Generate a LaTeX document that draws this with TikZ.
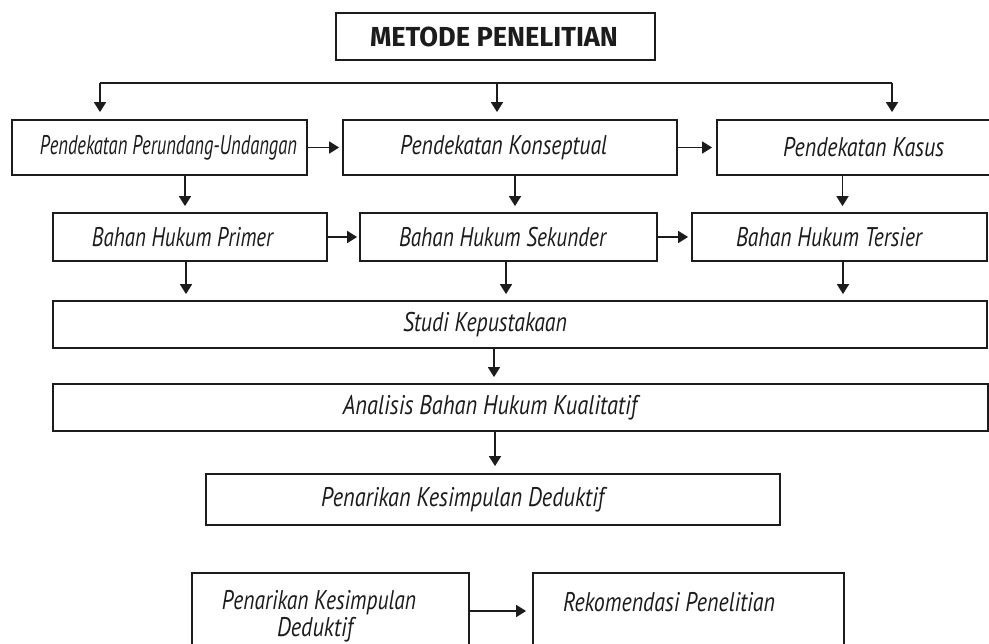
\documentclass[tikz,border=0pt]{standalone}
\usepackage{fontspec}
\usepackage{graphicx}
\usetikzlibrary{arrows.meta}
\newfontfamily\handfont{PT Sans}
\newfontfamily\headfont{Fira Sans}
\definecolor{ink}{HTML}{1C1C1C}
% width, horizontal shift of text centre, text
\newcommand\ftx[3]{\hspace*{\dimexpr#2pt+#2pt\relax}\resizebox{#1pt}{\height}{#3}}
\tikzset{
  box/.style={draw=ink, line width=1.8pt, inner sep=0pt, text=ink,
    font=\handfont\itshape\fontsize{27}{31}\selectfont},
  lbl/.style={inner sep=0pt, text=ink, anchor=base,
    font=\handfont\itshape\fontsize{27}{31}\selectfont},
  conn/.style={draw=ink, line width=1.8pt},
  arr/.style={conn, -{Triangle[length=10pt,width=12pt]}},
}
\begin{document}
\begin{tikzpicture}[x=1pt,y=-1pt]
\useasboundingbox (0,0) rectangle (989,644);
\clip (0,0) rectangle (989,644);
\fill[white] (0,0) rectangle (989,644);

% title
\node[box, line width=2.2pt, minimum width=319pt, minimum height=47pt,
  font=\headfont\bfseries\fontsize{27.5}{30}\selectfont] (title) at (495.5,36.5)
  {\ftx{248}{-1.5}{METODE PENELITIAN}};

% row 1
\node[box, minimum width=295pt, minimum height=55pt] (perund) at (159.5,147.5)
  {\ftx{257}{9}{Pendekatan Perundang-Undangan}};
\node[box, minimum width=334pt, minimum height=55pt] (konsep) at (510,147.5)
  {\ftx{207}{-6.5}{Pendekatan Konseptual}};
\node[box, minimum width=290pt, minimum height=55pt] (kasus) at (862,147.5)
  {\ftx{161}{1.5}{Pendekatan Kasus}};

% row 2
\node[box, minimum width=274pt, minimum height=48pt] (primer) at (190,237)
  {\ftx{181}{-7.5}{Bahan Hukum Primer}};
\node[box, minimum width=297pt, minimum height=48pt] (sekunder) at (508.5,237)
  {\ftx{207}{-6}{Bahan Hukum Sekunder}};
\node[box, minimum width=295pt, minimum height=48pt] (tersier) at (839.5,237)
  {\ftx{186}{-10.5}{Bahan Hukum Tersier}};

% wide rows
\node[box, minimum width=934pt, minimum height=47pt] (studi) at (520,324.5)
  {\ftx{164}{-35}{Studi Kepustakaan}};
\node[box, minimum width=935pt, minimum height=47pt] (analisis) at (520.5,407.5)
  {\ftx{294}{-30.5}{Analisis Bahan Hukum Kualitatif}};
\node[box, minimum width=574pt, minimum height=51pt] (tarik) at (493,499.5)
  {\ftx{283}{-30.5}{Penarikan Kesimpulan Deduktif}};

% bottom boxes (open at the bottom edge of the picture)
\node[box, minimum width=277pt, minimum height=87pt] (tarikdua) at (330.5,616.5) {};
\node[box, minimum width=311pt, minimum height=87pt] (rekom) at (688.5,616.5) {};
\node[lbl] (tarikduaA) at (319,609) {\ftx{194}{0}{Penarikan Kesimpulan}};
\node[lbl] (tarikduaB) at (315,636) {\ftx{76}{0}{Deduktif}};
\node[lbl] (rekomT) at (669,611) {\ftx{212}{0}{Rekomendasi Penelitian}};

% distribution bus
\coordinate (busL) at (100,83);
\coordinate (busM) at (497,83);
\coordinate (busR) at (892,83);
\draw[conn] (busL) -- (busR);
\draw[arr, shorten >=7pt] (busL) -- (busL |- perund.north);
\draw[arr, shorten >=7pt] (busM) -- (busM |- konsep.north);
\draw[arr, shorten >=7pt] (busR) -- (busR |- kasus.north);

% horizontal arrows
\draw[arr, shorten >=3pt] (perund.east) -- (konsep.west);
\draw[arr, shorten >=4pt] (konsep.east) -- (kasus.west);
\draw[arr, shorten >=2pt] (primer.east) -- (sekunder.west);
\draw[arr, shorten >=3pt] (sekunder.east) -- (tersier.west);
\draw[arr, shorten >=6pt] ([yshift=5.5pt]tarikdua.east) -- ([yshift=5.5pt]rekom.west);

% row 1 -> row 2
\draw[arr, shorten >=6pt] ([xshift=25.5pt]perund.south) -- ([xshift=25.5pt]perund.south |- primer.north);
\draw[arr, shorten >=6pt] ([xshift=5pt]konsep.south) -- ([xshift=5pt]konsep.south |- sekunder.north);
\draw[arr, shorten >=6pt] ([xshift=-19.5pt]kasus.south) -- ([xshift=-19.5pt]kasus.south |- tersier.north);

% row 2 -> studi
\draw[arr, shorten >=6pt] ([xshift=-4pt]primer.south) -- ([xshift=-4pt]primer.south |- studi.north);
\draw[arr, shorten >=6pt] ([xshift=-2.5pt]sekunder.south) -- ([xshift=-2.5pt]sekunder.south |- studi.north);
\draw[arr, shorten >=6pt] ([xshift=3.5pt]tersier.south) -- ([xshift=3.5pt]tersier.south |- studi.north);

% studi -> analisis -> tarik
\draw[arr, shorten >=6pt] ([xshift=-26pt]studi.south) -- ([xshift=-26pt]studi.south |- analisis.north);
\draw[arr, shorten >=7pt] ([xshift=-25.5pt]analisis.south) -- ([xshift=-25.5pt]analisis.south |- tarik.north);
\end{tikzpicture}
\end{document}
